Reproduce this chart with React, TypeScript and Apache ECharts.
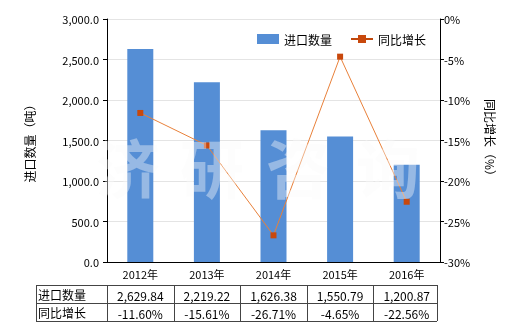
import React, { useEffect, useRef } from "react";
import * as echarts from "echarts";

const categories = ["2012年", "2013年", "2014年", "2015年", "2016年"];
const importVolume = [2629.84, 2219.22, 1626.38, 1550.79, 1200.87];
const yoyGrowth = [-11.6, -15.61, -26.71, -4.65, -22.56];
const seriesNames = ["进口数量", "同比增长"];
const leftAxisName = "进口数量（吨）";
const rightAxisName = "同比增长（%）";
const watermark = "济研咨询";

const FONT = "'Noto Sans CJK SC', 'DejaVu Sans', sans-serif";

const fmtNum = (v: number) =>
  v.toLocaleString("en-US", { minimumFractionDigits: 2, maximumFractionDigits: 2 });

export default function App() {
  const ref = useRef<HTMLDivElement>(null);

  useEffect(() => {
    if (!ref.current) return;
    const chart = echarts.init(ref.current, undefined, { renderer: "svg" });

    const gridLeft = 107;
    const gridRightPx = 440;
    const tableLeft = 36;
    const rowTop = [285, 303];
    const rowH = 18;
    const band = (gridRightPx - gridLeft) / categories.length;

    const tableEls: any[] = [];
    const lineStyle = { stroke: "#444", lineWidth: 1 };
    [rowTop[0], rowTop[1], rowTop[1] + rowH].forEach((y) => {
      tableEls.push({
        type: "line",
        shape: { x1: tableLeft, y1: y + 0.5, x2: gridRightPx - 3, y2: y + 0.5 },
        style: lineStyle,
        silent: true,
      });
    });
    const vx = [tableLeft];
    for (let i = 0; i <= categories.length; i++) {
      vx.push(Math.round(gridLeft + band * i - (i === categories.length ? 3 : 0)));
    }
    vx.forEach((x) => {
      tableEls.push({
        type: "line",
        shape: { x1: x + 0.5, y1: rowTop[0], x2: x + 0.5, y2: rowTop[1] + rowH },
        style: lineStyle,
        silent: true,
      });
    });
    const rows = [
      importVolume.map(fmtNum),
      yoyGrowth.map((v) => v.toFixed(2) + "%"),
    ];
    rows.forEach((row, r) => {
      tableEls.push({
        type: "text",
        x: tableLeft + 2,
        y: rowTop[r] + rowH / 2,
        style: {
          text: seriesNames[r],
          fontSize: 12,
          fontFamily: FONT,
          fill: "#000",
          verticalAlign: "middle",
          align: "left",
        },
      });
      row.forEach((t, i) => {
        tableEls.push({
          type: "text",
          x: gridLeft + band * (i + 0.5),
          y: rowTop[r] + rowH / 2 + 1,
          style: {
            text: t,
            fontSize: 12,
            fontFamily: FONT,
            fill: "#000",
            verticalAlign: "middle",
            align: "center",
          },
        });
      });
    });

    const wmX = [96, 180, 266, 356];
    const wmEls = watermark.split("").map((ch, i) => ({
      type: "text",
      x: wmX[i],
      y: 165,
      z: 100,
      silent: true,
      style: {
        text: ch,
        fontSize: 64,
        fontWeight: "bold",
        fontFamily: FONT,
        fill: "rgba(250,250,250,0.4)",
        verticalAlign: "middle",
        align: "left",
      },
    }));

    chart.setOption({
      animation: false,
      textStyle: { fontFamily: FONT },
      grid: { left: gridLeft, right: 520 - gridRightPx, top: 19, bottom: 68 },
      legend: {
        top: 28,
        left: 252,
        itemWidth: 22,
        itemHeight: 10,
        itemGap: 18,
        textStyle: { fontSize: 12, color: "#000", fontFamily: FONT },
        data: [
          { name: seriesNames[0], icon: "rect" },
          { name: seriesNames[1], lineStyle: { color: "#c0480c", width: 2 } },
        ],
      },
      xAxis: {
        type: "category",
        data: categories,
        axisLine: { lineStyle: { color: "#000" } },
        axisTick: { show: false },
        axisLabel: { color: "#000", fontSize: 11, margin: 6 },
      },
      yAxis: [
        {
          type: "value",
          min: 0,
          max: 3000,
          interval: 500,
          name: leftAxisName,
          nameLocation: "middle",
          nameGap: 72,
          nameRotate: 90,
          nameTextStyle: { fontSize: 12, color: "#000" },
          axisLine: { show: true, lineStyle: { color: "#000" } },
          axisTick: { show: true, length: 4, lineStyle: { color: "#000" } },
          axisLabel: {
            color: "#000",
            fontSize: 11,
            margin: 8,
            formatter: (v: number) =>
              v.toLocaleString("en-US", { minimumFractionDigits: 1, maximumFractionDigits: 1 }),
          },
          splitLine: { lineStyle: { color: "#e4e4e4" } },
        },
        {
          type: "value",
          min: -30,
          max: 0,
          interval: 5,
          name: rightAxisName,
          nameLocation: "middle",
          nameGap: 44,
          nameRotate: -90,
          nameTextStyle: { fontSize: 12, color: "#000" },
          axisLine: { show: true, lineStyle: { color: "#000" } },
          axisTick: { show: true, length: 4, lineStyle: { color: "#000" } },
          axisLabel: { color: "#000", fontSize: 11, margin: 4, formatter: "{value}%" },
          splitLine: { show: false },
        },
      ],
      series: [
        {
          name: seriesNames[0],
          type: "bar",
          data: importVolume,
          barWidth: 26,
          itemStyle: { color: "#558ed5" },
        },
        {
          name: seriesNames[1],
          type: "line",
          yAxisIndex: 1,
          data: yoyGrowth,
          symbol: "rect",
          symbolSize: 6,
          lineStyle: { color: "#e8803a", width: 1 },
          itemStyle: { color: "#c8480c" },
        },
      ],
      graphic: [...wmEls, ...tableEls],
    });

    return () => chart.dispose();
  }, []);

  return (
    <div
      ref={ref}
      style={{ position: "fixed", left: 0, top: 0, width: 520, height: 330 }}
    />
  );
}
